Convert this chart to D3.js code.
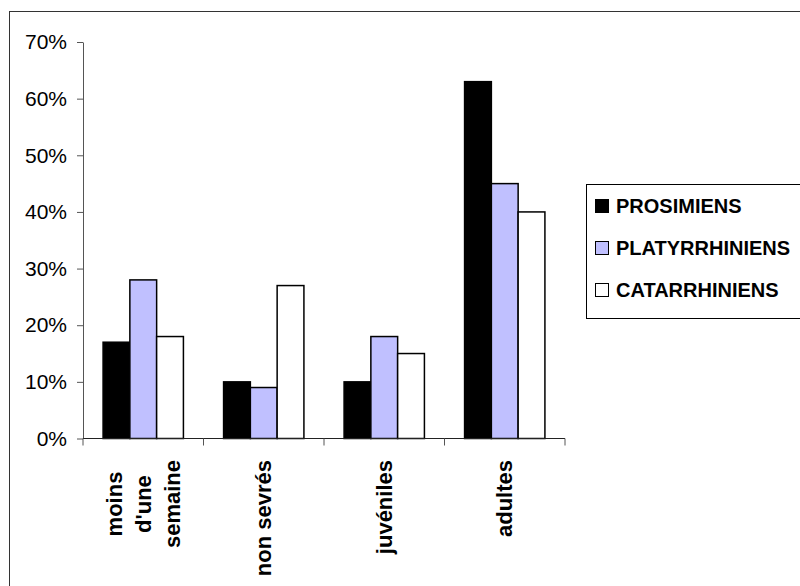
<!DOCTYPE html>
<html>
<head>
<meta charset="utf-8">
<script src="https://cdn.jsdelivr.net/npm/d3@7"></script>
<style>
  html, body { margin: 0; padding: 0; background: #fff; }
  svg { display: block; font-family: Arial, "Liberation Sans", sans-serif; }
</style>
</head>
<body>
<svg id="chart" width="800" height="586"></svg>
<script>
// Age classes (each label split into its displayed lines)
const categories = ["moins d'une semaine", "non sevrés", "juvéniles", "adultes"];
const categoryLines = [["moins", "d'une", "semaine"], ["non sevrés"], ["juvéniles"], ["adultes"]];

// Series: share of each age class (%)
const seriesNames = ["PROSIMIENS", "PLATYRRHINIENS", "CATARRHINIENS"];
const prosimiens     = [17, 10, 10, 63];
const platyrrhiniens = [28, 9, 18, 45];
const catarrhiniens  = [18, 27, 15, 40];
const seriesValues = [prosimiens, platyrrhiniens, catarrhiniens];
const seriesColors = ["#000000", "#c0c0ff", "#ffffff"];

// Y axis ticks (%)
const yTicks = [0, 10, 20, 30, 40, 50, 60, 70];

const svg = d3.select("#chart");

// Outer chart frame (runs off the right and bottom edges)
svg.append("rect")
  .attr("x", 9.5).attr("y", 11.5)
  .attr("width", 900).attr("height", 700)
  .attr("fill", "#fff").attr("stroke", "#333").attr("stroke-width", 1);

const plot = { left: 83, right: 565, top: 42, bottom: 438.5 };

const x0 = d3.scaleBand().domain(categories).range([plot.left, plot.right]).padding(0);
const x1 = d3.scaleBand().domain(seriesNames)
  .range([0, x0.bandwidth()]).paddingInner(0).paddingOuter(0.75);
const y = d3.scaleLinear().domain([0, 70]).range([plot.bottom, plot.top]);

// Bars
const rows = categories.map((c, i) => ({
  cat: c,
  vals: seriesNames.map((s, j) => ({ s, v: seriesValues[j][i], color: seriesColors[j] }))
}));

const groups = svg.append("g").selectAll("g").data(rows).join("g")
  .attr("transform", d => `translate(${x0(d.cat)},0)`);

groups.selectAll("rect").data(d => d.vals).join("rect")
  .attr("x", d => x1(d.s))
  .attr("y", d => y(d.v))
  .attr("width", x1.bandwidth())
  .attr("height", d => y(0) - y(d.v))
  .attr("fill", d => d.color)
  .attr("stroke", "#000")
  .attr("stroke-width", 1.5);

// Y axis
const yAxis = svg.append("g")
  .attr("transform", `translate(${plot.left},0)`)
  .call(d3.axisLeft(y).tickValues(yTicks).tickFormat(d => d + "%")
    .tickSize(6).tickPadding(10).tickSizeOuter(0));
yAxis.select(".domain").attr("stroke", "#555");
yAxis.selectAll(".tick line").attr("stroke", "#555");
yAxis.selectAll(".tick text")
  .attr("font-size", 21).attr("fill", "#000")
  .attr("font-family", "Arial, 'Liberation Sans', sans-serif");

// X axis: ticks at category boundaries, labels drawn separately
const boundaries = categories.map(c => x0(c)).concat([plot.right]);
const xAxisG = svg.append("g");
xAxisG.append("line")
  .attr("x1", plot.left).attr("x2", plot.right)
  .attr("y1", y(0)).attr("y2", y(0))
  .attr("stroke", "#222").attr("stroke-width", 1);
xAxisG.selectAll("line.tk").data(boundaries).join("line")
  .attr("class", "tk")
  .attr("x1", d => d).attr("x2", d => d)
  .attr("y1", y(0)).attr("y2", y(0) + 7)
  .attr("stroke", "#555");

// Rotated category labels, lines centered within a block that starts just under the axis
const labelTop = 460;
const lineGap = 29;
categories.forEach((c, i) => {
  const lines = categoryLines[i];
  const cx = x0(c) + x0.bandwidth() / 2;
  const g = svg.append("g");
  const texts = lines.map((t, k) => {
    const off = (k - (lines.length - 1) / 2) * lineGap;
    return g.append("text")
      .attr("font-size", 22).attr("font-weight", "bold")
      .attr("text-anchor", "middle")
      .attr("dy", "0.35em")
      .attr("data-x", cx + off)
      .text(t);
  });
  const maxLen = d3.max(texts, t => t.node().getComputedTextLength());
  const cy = labelTop + maxLen / 2;
  texts.forEach(t => {
    const tx = +t.attr("data-x");
    t.attr("transform", `translate(${tx},${cy}) rotate(-90)`).attr("data-x", null);
  });
});

// Legend
const legend = svg.append("g");
legend.append("rect")
  .attr("x", 586.5).attr("y", 184.5)
  .attr("width", 300).attr("height", 134)
  .attr("fill", "#fff").attr("stroke", "#000").attr("stroke-width", 1);
const items = legend.selectAll("g.item").data(seriesNames).join("g")
  .attr("class", "item")
  .attr("transform", (d, i) => `translate(595,${199 + i * 42})`);
items.append("rect")
  .attr("x", 0.5).attr("y", 0.5).attr("width", 13).attr("height", 13)
  .attr("fill", (d, i) => seriesColors[i]).attr("stroke", "#000").attr("stroke-width", 1);
items.append("text")
  .attr("x", 21).attr("y", 14)
  .attr("font-size", 20).attr("font-weight", "bold")
  .text(d => d);
</script>
</body>
</html>
